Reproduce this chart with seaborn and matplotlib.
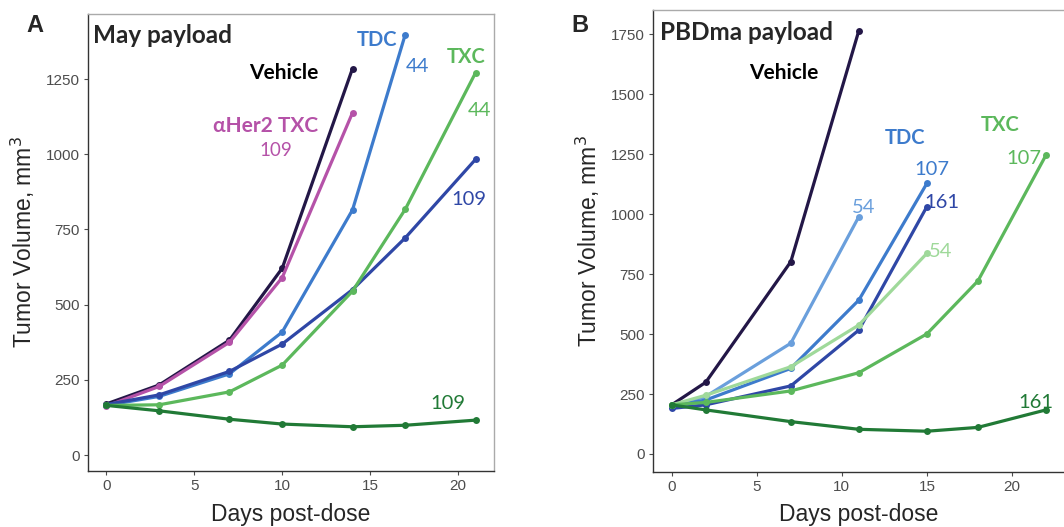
import pandas as pd
import matplotlib.pyplot as plt
import seaborn as sns

# Panel A - May payload
days_a = {
    'Vehicle': [0, 3, 7, 10, 14],
    'aHer2 TXC 109': [0, 3, 7, 10, 14],
    'TDC 44': [0, 3, 7, 10, 14, 17],
    'TDC 109': [0, 3, 7, 10, 14, 17, 21],
    'TXC 44': [0, 3, 7, 10, 14, 17, 21],
    'TXC 109': [0, 3, 7, 10, 14, 17, 21],
}
vol_a = {
    'Vehicle': [170, 233, 382, 621, 1285],
    'aHer2 TXC 109': [163, 228, 375, 590, 1138],
    'TDC 44': [165, 195, 270, 409, 815, 1398],
    'TDC 109': [168, 200, 278, 369, 550, 722, 983],
    'TXC 44': [165, 167, 210, 299, 545, 817, 1271],
    'TXC 109': [165, 147, 119, 103, 94, 99, 116],
}

# Panel B - PBDma payload
days_b = {
    'Vehicle': [0, 2, 7, 11],
    'TDC 54': [0, 2, 7, 11],
    'TDC 107': [0, 2, 7, 11, 15],
    'TDC 161': [0, 2, 7, 11, 15],
    'TXC 54': [0, 2, 7, 11, 15],
    'TXC 107': [0, 2, 7, 11, 15, 18, 22],
    'TXC 161': [0, 2, 7, 11, 15, 18, 22],
}
vol_b = {
    'Vehicle': [205, 299, 802, 1766],
    'TDC 54': [200, 240, 462, 990],
    'TDC 107': [200, 225, 357, 642, 1129],
    'TDC 161': [190, 205, 284, 517, 1032],
    'TXC 54': [205, 245, 364, 538, 837],
    'TXC 107': [205, 215, 263, 339, 501, 722, 1247],
    'TXC 161': [205, 184, 135, 103, 95, 111, 184],
}

colores_a = {
    'Vehicle': '#231747', 'aHer2 TXC 109': '#b552a8', 'TDC 44': '#3d7bcc',
    'TDC 109': '#2f47a6', 'TXC 44': '#5cb85c', 'TXC 109': '#217a36',
}
colores_b = {
    'Vehicle': '#231747', 'TDC 54': '#6a9fdc', 'TDC 107': '#3d7bcc',
    'TDC 161': '#2f47a6', 'TXC 54': '#9fd99a', 'TXC 107': '#5cb85c',
    'TXC 161': '#217a36',
}


def a_tabla(days, vol):
    filas = []
    for g in days:
        for d, v in zip(days[g], vol[g]):
            filas.append({'Grupo': g, 'Dia': d, 'Volumen': v})
    return pd.DataFrame(filas)


sns.set_style('white')
plt.rcParams['font.family'] = ['Liberation Sans', 'DejaVu Sans']

fig = plt.figure(figsize=(10.64, 5.27), dpi=100)
ax_a = fig.add_axes([0.0827, 0.1063, 0.3816, 0.867])
ax_b = fig.add_axes([0.6137, 0.1044, 0.3870, 0.8767])

ann = 'Lato'

for ax, days, vol, cols in [(ax_a, days_a, vol_a, colores_a), (ax_b, days_b, vol_b, colores_b)]:
    df = a_tabla(days, vol)
    sns.lineplot(data=df, x='Dia', y='Volumen', hue='Grupo', palette=cols,
                 hue_order=list(cols), marker='o', markersize=5, markeredgewidth=0,
                 linewidth=2.3, sort=True, legend=False, ax=ax)
    ax.set_xlabel('Days post-dose', fontsize=16.5, labelpad=7)
    ax.set_ylabel('Tumor Volume, mm$^3$', fontsize=16.5, labelpad=6)
    ax.tick_params(axis='both', labelsize=11, labelcolor='#4d4d4d', color='#4d4d4d',
                   length=3, width=0.8, left=True, bottom=True, pad=3)
    for lado in ['left', 'bottom']:
        ax.spines[lado].set_color('#333333')
        ax.spines[lado].set_linewidth(1.0)
    for lado in ['top', 'right']:
        ax.spines[lado].set_color('#aaaaaa')
        ax.spines[lado].set_linewidth(1.0)
    ax.set_xticks([0, 5, 10, 15, 20])

ax_b.xaxis.labelpad = 6

ax_a.set_xlim(-1.05, 22.05)
ax_a.set_ylim(-53, 1466)
ax_a.set_yticks([0, 250, 500, 750, 1000, 1250])
ax_b.set_xlim(-1.1, 23.1)
ax_b.set_ylim(-75, 1852)
ax_b.set_yticks([0, 250, 500, 750, 1000, 1250, 1500, 1750])

# Etiquetas panel A
ax_a.text(-0.75, 1396, 'May payload', fontsize=17.5, fontweight='bold', family=ann, ha='left', va='center')
ax_a.text(10.1, 1270, 'Vehicle', fontsize=15, fontweight='bold', family=ann, ha='center', va='center', color='black')
ax_a.text(9.03, 1094, '\u03b1Her2 TXC', fontsize=15, fontweight='bold', family=ann, ha='center', va='center', color='#b552a8')
ax_a.text(9.66, 1011, '109', fontsize=13.5, family=ann, ha='center', va='center', color='#b552a8')
ax_a.text(15.4, 1380, 'TDC', fontsize=14.5, fontweight='bold', family=ann, ha='center', va='center', color='#3d7bcc')
ax_a.text(17.67, 1293, '44', fontsize=14.5, family=ann, ha='center', va='center', color='#3d7bcc')
ax_a.text(20.45, 1323, 'TXC', fontsize=14.5, fontweight='bold', family=ann, ha='center', va='center', color='#5cb85c')
ax_a.text(21.2, 1147, '44', fontsize=14.5, family=ann, ha='center', va='center', color='#5cb85c')
ax_a.text(20.6, 848, '109', fontsize=14.5, family=ann, ha='center', va='center', color='#2f47a6')
ax_a.text(19.4, 173, '109', fontsize=14.5, family=ann, ha='center', va='center', color='#217a36')

# Etiquetas panel B
ax_b.text(-0.7, 1760, 'PBDma payload', fontsize=17.5, fontweight='bold', family=ann, ha='left', va='center')
ax_b.text(6.6, 1589, 'Vehicle', fontsize=15, fontweight='bold', family=ann, ha='center', va='center', color='black')
ax_b.text(13.7, 1318, 'TDC', fontsize=14.5, fontweight='bold', family=ann, ha='center', va='center', color='#3d7bcc')
ax_b.text(15.3, 1185, '107', fontsize=14.5, family=ann, ha='center', va='center', color='#3d7bcc')
ax_b.text(15.85, 1051, '161', fontsize=14.5, family=ann, ha='center', va='center', color='#2f47a6')
ax_b.text(11.27, 1030, '54', fontsize=14.5, family=ann, ha='center', va='center', color='#6a9fdc')
ax_b.text(15.8, 843, '54', fontsize=14.5, family=ann, ha='center', va='center', color='#9fd99a')
ax_b.text(19.3, 1372, 'TXC', fontsize=14.5, fontweight='bold', family=ann, ha='center', va='center', color='#5cb85c')
ax_b.text(20.7, 1234, '107', fontsize=14.5, family=ann, ha='center', va='center', color='#5cb85c')
ax_b.text(21.4, 214, '161', fontsize=14.5, family=ann, ha='center', va='center', color='#217a36')

# Letras de panel
fig.text(35 / 1064, 1 - 25 / 527, 'A', fontsize=17, fontweight='bold', ha='center', va='center')
fig.text(580 / 1064, 1 - 25 / 527, 'B', fontsize=17, fontweight='bold', ha='center', va='center')

fig.savefig('out.png', dpi=100)
